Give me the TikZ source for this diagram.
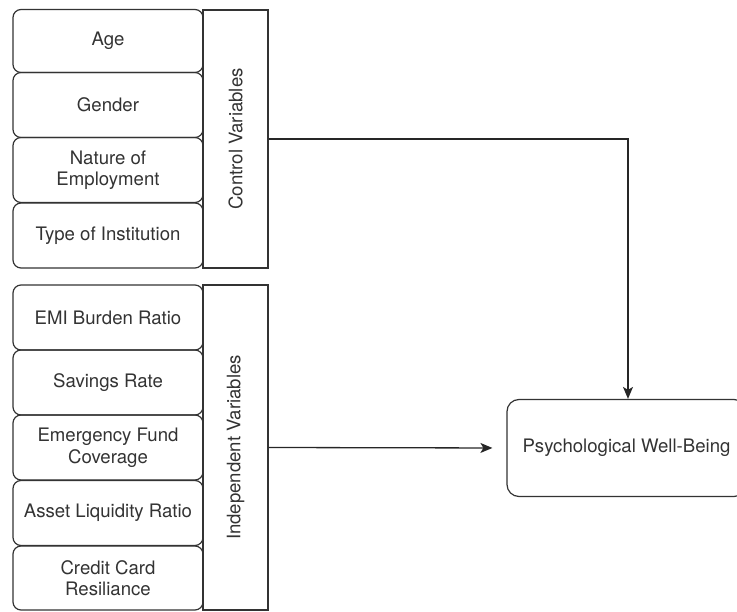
\documentclass[tikz,border=0pt]{standalone}
\usepackage{fontspec}
\setmainfont{TeX Gyre Heros}
\usetikzlibrary{arrows.meta}
\begin{document}
\begin{tikzpicture}[x=1pt,y=-1pt,
  line width=1.2pt,
  every node/.style={font=\fontsize{18.6}{21.5}\selectfont, text=black!80},
  item/.style={draw=black!80, rounded corners=8pt, minimum width=190pt, inner sep=0pt, align=center},
  grp/.style={draw=black!80, inner sep=0pt},
  conn/.style={draw=black!85, line width=1.3pt, -{Stealth[length=12pt,width=10pt,inset=3pt]}}]
\useasboundingbox (0,0) rectangle (737,612);
% control group
\node[item, minimum height=63pt] (age) at (108,41) {Age};
\node[item, minimum height=65pt] (gender) at (108,105) {Gender};
\node[item, minimum height=65pt] (nature) at (108,170) {Nature of\\Employment};
\node[item, minimum height=65pt] (inst) at (108,235.5) {Type of Institution};
\node[grp, minimum width=65pt, minimum height=258pt] (ctrl) at (235.5,139) {};
\node[rotate=90] (ctrllbl) at (ctrl.center) {Control Variables};
% independent group
\node[item, minimum height=65pt] (emi) at (108,317.5) {EMI Burden Ratio};
\node[item, minimum height=65pt] (sav) at (108,382.5) {Savings Rate};
\node[item, minimum height=65pt] (emer) at (108,447.5) {Emergency Fund\\Coverage};
\node[item, minimum height=65pt] (asset) at (108,513) {Asset Liquidity Ratio};
\node[item, minimum height=64pt] (credit) at (108,578) {Credit Card\\Resiliance};
\node[grp, minimum width=65pt, minimum height=325pt] (indep) at (235.5,447.5) {};
\node[rotate=90] (indeplbl) at (indep.center) {Independent Variables};
% outcome
\node[draw=black!80, rounded corners=12pt, minimum width=239pt, minimum height=97pt] (pwb) at (626.5,448) {Psychological Well-Being};
\coordinate (bend) at (628,139);
\draw[conn] (ctrl.east |- bend) -- (bend) -- (pwb.north -| bend);
\draw[conn, shorten >=14pt] (indep.east) -- (pwb.west);
\end{tikzpicture}
\end{document}
